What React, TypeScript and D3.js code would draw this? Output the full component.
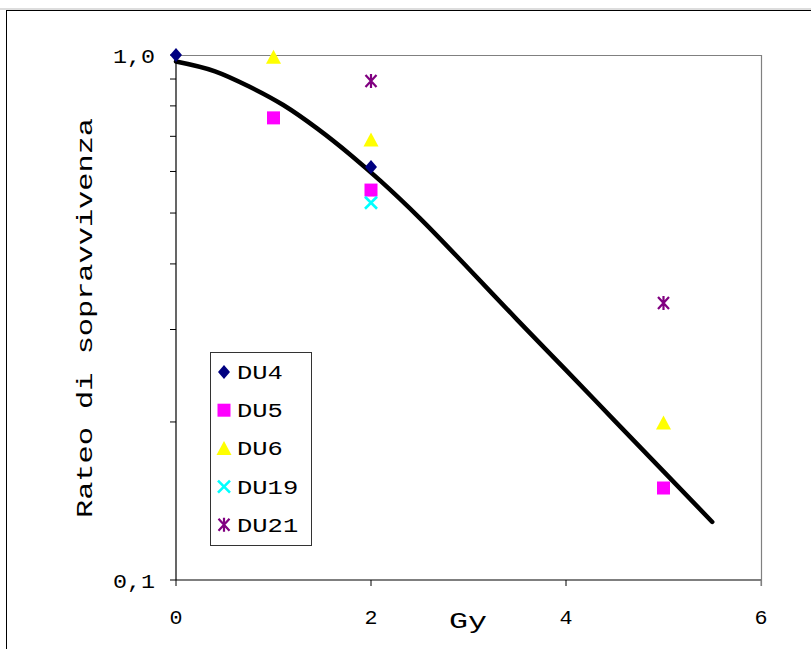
import React from "react";
import * as d3 from "d3";

const xTicks = [0, 2, 4, 6];
const xTickLabels = ["0", "2", "4", "6"];
const yMajorTicks = [0.1, 1.0];
const yMajorLabels = ["0,1", "1,0"];
const yMinorTicks = [0.2, 0.3, 0.4, 0.5, 0.6, 0.7, 0.8, 0.9];

const seriesNames = ["DU4", "DU5", "DU6", "DU19", "DU21"];
const du4Dose = [0, 2];
const du4Surv = [1.0, 0.612];
const du5Dose = [1, 2, 5];
const du5Surv = [0.759, 0.553, 0.1497];
const du6Dose = [1, 2, 5];
const du6Surv = [0.99, 0.689, 0.199];
const du19Dose = [2];
const du19Surv = [0.523];
const du21Dose = [2, 5];
const du21Surv = [0.892, 0.337];

const curveDose = [0, 0.4, 0.75, 1.1, 1.45, 1.8, 2.1, 2.5, 3, 3.5, 4, 4.5, 5, 5.5];
const curveSurv = [0.972, 0.931, 0.871, 0.803, 0.724, 0.643, 0.575, 0.489, 0.392, 0.313, 0.251, 0.201, 0.161, 0.129];

const seriesDose = [du4Dose, du5Dose, du6Dose, du19Dose, du21Dose];
const seriesSurv = [du4Surv, du5Surv, du6Surv, du19Surv, du21Surv];

const colors = ["#000080", "#FF00FF", "#FFFF00", "#00FFFF", "#800080"];
const FONT = "'Liberation Mono', 'Courier New', monospace";

function Marker({ kind, x, y }: { kind: number; x: number; y: number }) {
  const c = colors[kind];
  const t = `translate(${x},${y})`;
  if (kind === 0) return <path transform={t} d="M0,-7L6,0L0,7L-6,0Z" fill={c} />;
  if (kind === 1) return <rect x={x - 6.5} y={y - 6.5} width={13} height={13} fill={c} />;
  if (kind === 2) return <path transform={t} d="M0,-7.5L7.5,6.5L-7.5,6.5Z" fill={c} />;
  if (kind === 3)
    return <path transform={t} d="M-6,-6L6,6M6,-6L-6,6" stroke={c} strokeWidth={2.6} fill="none" />;
  return (
    <path transform={t} d="M-5.5,-6L5.5,6M5.5,-6L-5.5,6M0,-7L0,7" stroke={c} strokeWidth={2.2} fill="none" />
  );
}

export default function App() {
  const W = 811, H = 649;
  const x = d3.scaleLinear().domain([0, 6]).range([176, 761]);
  const y = d3.scaleLog().domain([0.1, 1]).range([580, 55]);
  const line = d3
    .line<number>()
    .x((_, i) => x(curveDose[i]))
    .y((d) => y(d))
    .curve(d3.curveMonotoneX);
  const [x0, x1] = x.range();
  const [yb, yt] = y.range();
  const legX = 210, legY = 352, legW = 101, legH = 193;
  const legStep = 38.2;

  return (
    <svg width={W} height={H} style={{ position: "absolute", left: 0, top: 0, background: "#fff" }}>
      <rect x={0} y={0} width={W} height={H} fill="#fff" />
      <line x1={0} y1={9} x2={W} y2={9} stroke="#bbb" strokeWidth={1} />
      <rect x={6.5} y={10.5} width={900} height={800} fill="none" stroke="#000" strokeWidth={1} />
      {/* plot border */}
      <line x1={x0} y1={yt + 0.5} x2={x1} y2={yt + 0.5} stroke="#808080" strokeWidth={1.2} />
      <line x1={x1 + 0.5} y1={yt} x2={x1 + 0.5} y2={yb + 6} stroke="#808080" strokeWidth={1.2} />
      <line x1={x0} y1={yt} x2={x0} y2={yb} stroke="#000" strokeWidth={1.2} />
      <line x1={x0} y1={yb} x2={x1} y2={yb} stroke="#000" strokeWidth={1.2} />
      {/* y ticks */}
      {yMajorTicks.concat(yMinorTicks).map((v, i) => (
        <line key={"yt" + i} x1={x0 - 6} x2={x0} y1={y(v)} y2={y(v)} stroke="#000" strokeWidth={1} />
      ))}
      {yMajorTicks.map((v, i) => (
        <text key={"yl" + i} x={155} y={y(v) + 8} textAnchor="end" fontFamily={FONT} fontSize={21}
          textLength={42} lengthAdjust="spacingAndGlyphs" fill="#000">
          {yMajorLabels[i]}
        </text>
      ))}
      {/* x ticks */}
      {xTicks.map((v, i) => (
        <line key={"xt" + i} x1={x(v)} x2={x(v)} y1={yb} y2={yb + 6} stroke={v === 6 ? "#808080" : "#000"} strokeWidth={1} />
      ))}
      {xTicks.map((v, i) => (
        <text key={"xl" + i} x={x(v)} y={624} textAnchor="middle" fontFamily={FONT} fontSize={21}
          textLength={13} lengthAdjust="spacingAndGlyphs" fill="#000">
          {xTickLabels[i]}
        </text>
      ))}
      <text x={468} y={628} textAnchor="middle" fontFamily={FONT} fontSize={22}
        textLength={38} lengthAdjust="spacingAndGlyphs" fill="#000">Gy</text>
      <text transform="translate(92,318) rotate(-90)" textAnchor="middle" fontFamily={FONT} fontSize={22}
        textLength={400} lengthAdjust="spacingAndGlyphs" fill="#000">Rateo di sopravvivenza</text>
      {/* curve */}
      <path d={line(curveSurv) || ""} fill="none" stroke="#000" strokeWidth={4.5} strokeLinecap="round" strokeLinejoin="round" />
      {/* points */}
      {seriesDose.map((ds, s) =>
        ds.map((dv, i) => <Marker key={`p${s}-${i}`} kind={s} x={x(dv)} y={y(seriesSurv[s][i])} />)
      )}
      {/* legend */}
      <rect x={legX + 0.5} y={legY + 0.5} width={legW} height={legH} fill="#fff" stroke="#333" strokeWidth={1} />
      {seriesNames.map((n, i) => {
        const cy = legY + 20 + i * legStep;
        return (
          <g key={"lg" + i}>
            <Marker kind={i} x={224} y={cy} />
            <text x={237} y={cy + 7} fontFamily={FONT} fontSize={21}
              textLength={n.length * 15.3} lengthAdjust="spacingAndGlyphs" fill="#000">{n}</text>
          </g>
        );
      })}
    </svg>
  );
}
